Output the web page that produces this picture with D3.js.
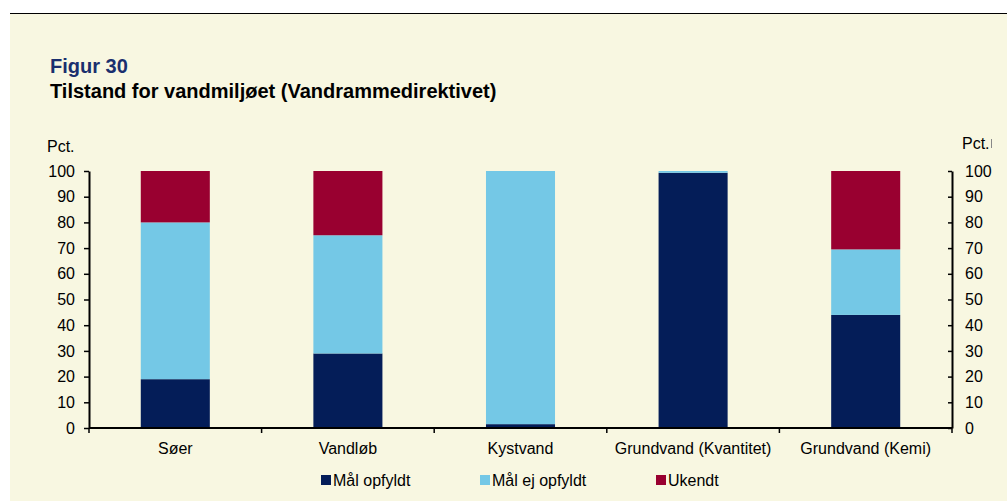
<!DOCTYPE html>
<html>
<head>
<meta charset="utf-8">
<script src="https://cdn.jsdelivr.net/npm/d3@7"></script>
<style>
  body { margin: 0; background: #fff; }
  svg text { font-family: "Liberation Sans", Arial, sans-serif; }
</style>
</head>
<body>
<div id="chart"></div>
<script>
// chart data
var categories = ["Søer", "Vandløb", "Kystvand", "Grundvand (Kvantitet)", "Grundvand (Kemi)"];
var seriesNames = ["Mål opfyldt", "Mål ej opfyldt", "Ukendt"];
var maalOpfyldt = [19, 29, 1.5, 99.3, 44];
var maalEjOpfyldt = [61, 46, 98.5, 0.7, 25.5];
var ukendt = [20, 25, 0, 0, 30.5];
var yTicks = [0, 10, 20, 30, 40, 50, 60, 70, 80, 90, 100];

var colors = ["#041d58", "#74c8e6", "#990030"];

var svgWidth = 1007, svgHeight = 501;
var margin = {top: 171, left: 89, right: 55, bottom: 73};
var width = svgWidth - margin.left - margin.right;
var height = svgHeight - margin.top - margin.bottom;

var svg = d3.select("#chart").append("svg")
  .attr("width", svgWidth)
  .attr("height", svgHeight);

// background panel + top rule
svg.append("rect").attr("x", 10).attr("y", 13).attr("width", svgWidth - 10).attr("height", svgHeight - 13)
  .attr("fill", "#f8f7e1");
svg.append("line").attr("x1", 10).attr("x2", svgWidth).attr("y1", 13.5).attr("y2", 13.5)
  .attr("stroke", "#000").attr("stroke-width", 1.2);

svg.append("text").attr("x", 50).attr("y", 73)
  .attr("font-size", 20).attr("font-weight", "bold").attr("fill", "#1a2f6e")
  .text("Figur 30");
svg.append("text").attr("x", 50).attr("y", 98)
  .attr("font-size", 20).attr("font-weight", "bold").attr("fill", "#000")
  .text("Tilstand for vandmiljøet (Vandrammedirektivet)");

var table = categories.map(function(c, i) {
  return {cat: c, "Mål opfyldt": maalOpfyldt[i], "Mål ej opfyldt": maalEjOpfyldt[i], "Ukendt": ukendt[i]};
});
var stacked = d3.stack().keys(seriesNames)(table);

var chartGroup = svg.append("g")
  .attr("transform", `translate(${margin.left}, ${margin.top})`);

var x = d3.scaleBand().domain(categories).range([0, width]).paddingInner(0.6).paddingOuter(0.3);
var xBoundary = d3.scaleLinear().domain([0, categories.length]).range([0, width]);
var y = d3.scaleLinear().domain([0, 100]).range([height, 0]);

chartGroup.selectAll("g.series")
  .data(stacked)
  .enter().append("g")
  .attr("class", "series")
  .attr("fill", (d, i) => colors[i])
  .selectAll("rect")
  .data(d => d)
  .enter().append("rect")
  .attr("x", d => x(d.data.cat))
  .attr("width", x.bandwidth())
  .attr("y", d => y(d[1]))
  .attr("height", d => y(d[0]) - y(d[1]));

// left axis
var leftAxis = d3.axisLeft(y).tickValues(yTicks).tickSize(5).tickSizeOuter(0).tickPadding(9);
var gl = chartGroup.append("g").call(leftAxis);
// right axis (ticks pointing inward)
var rightAxis = d3.axisRight(y).tickValues(yTicks).tickSize(0).tickSizeOuter(0).tickPadding(13);
var gr = chartGroup.append("g").attr("transform", `translate(${width}, 0)`).call(rightAxis);
gr.selectAll(".tick").append("line").attr("x1", -4).attr("x2", 0).attr("stroke", "#000").attr("stroke-width", 1.5);

[gl, gr].forEach(function(g) {
  g.select(".domain").attr("stroke", "#000").attr("stroke-width", 2);
  g.selectAll(".tick line").attr("stroke", "#000").attr("stroke-width", 1.5);
  g.selectAll(".tick text").attr("font-size", 16).attr("fill", "#000")
    .attr("font-family", "Liberation Sans, Arial, sans-serif");
});

// category axis
var gx = chartGroup.append("g").attr("transform", `translate(0, ${height})`);
gx.append("line").attr("x1", 0).attr("x2", width).attr("stroke", "#000").attr("stroke-width", 2);
gx.selectAll("line.tk")
  .data(d3.range(categories.length + 1))
  .enter().append("line")
  .attr("class", "tk")
  .attr("x1", d => xBoundary(d)).attr("x2", d => xBoundary(d))
  .attr("y1", 0).attr("y2", 5)
  .attr("stroke", "#000").attr("stroke-width", 1.5);
gx.selectAll("text")
  .data(categories)
  .enter().append("text")
  .attr("x", d => x(d) + x.bandwidth() / 2)
  .attr("y", 26)
  .attr("text-anchor", "middle")
  .attr("font-size", 16)
  .text(d => d);

// unit labels
svg.append("text").attr("x", 47).attr("y", 152).attr("font-size", 16).text("Pct.");
svg.append("text").attr("x", 962).attr("y", 149).attr("font-size", 16).text("Pct.");
svg.append("rect").attr("x", 991).attr("y", 139).attr("width", 1).attr("height", 9).attr("fill", "#888");

// legend
var legendX = [321, 480, 656];
var legend = svg.selectAll("g.legend")
  .data(seriesNames)
  .enter().append("g")
  .attr("class", "legend")
  .attr("transform", (d, i) => `translate(${legendX[i]}, 475)`);
legend.append("rect").attr("width", 10).attr("height", 10).attr("fill", (d, i) => colors[i]);
legend.append("text").attr("x", 12).attr("y", 10.5).attr("font-size", 16).text(d => d);
</script>
</body>
</html>
